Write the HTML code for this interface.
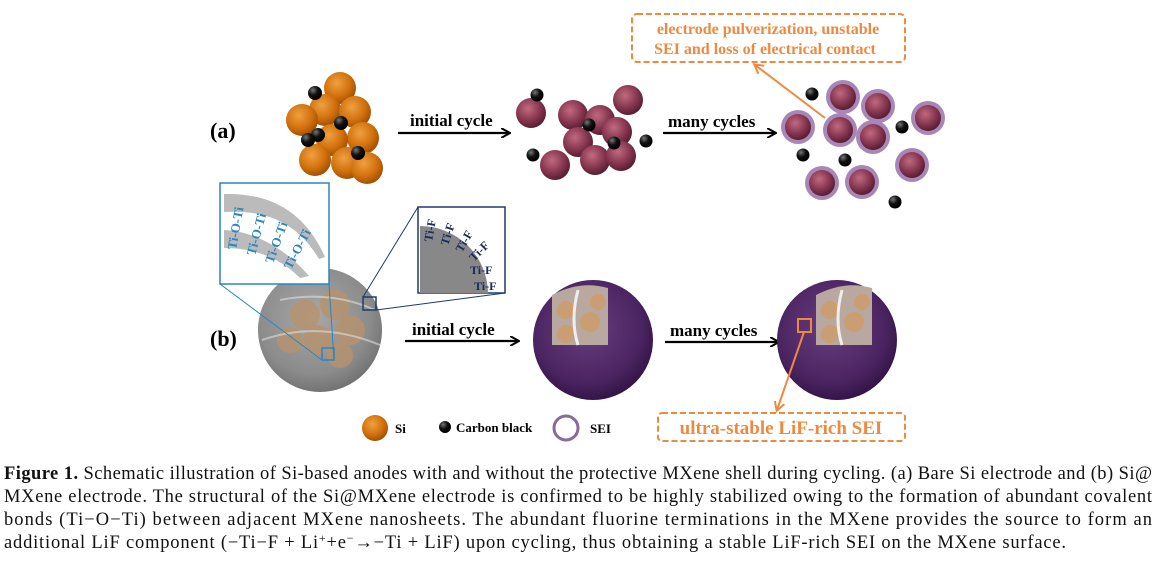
<!DOCTYPE html>
<html><head><meta charset="utf-8"><style>
html,body{margin:0;padding:0;background:#fff;}
svg{display:block;}
</style></head><body>
<svg width="1165" height="561" viewBox="0 0 1165 561" xmlns="http://www.w3.org/2000/svg">
<defs>
<radialGradient id="or" cx="0.4" cy="0.35" r="0.7"><stop offset="0" stop-color="#f0a040"/><stop offset="0.6" stop-color="#d0700c"/><stop offset="1" stop-color="#9a4a00"/></radialGradient>
<radialGradient id="pu" cx="0.4" cy="0.35" r="0.7"><stop offset="0" stop-color="#c06a80"/><stop offset="0.6" stop-color="#84344e"/><stop offset="1" stop-color="#4e1a2c"/></radialGradient>
<radialGradient id="bk" cx="0.35" cy="0.3" r="0.7"><stop offset="0" stop-color="#777"/><stop offset="0.5" stop-color="#111"/><stop offset="1" stop-color="#000"/></radialGradient>
<radialGradient id="big" cx="0.45" cy="0.4" r="0.65"><stop offset="0" stop-color="#6a3e80"/><stop offset="0.7" stop-color="#4a2460"/><stop offset="1" stop-color="#2e1040"/></radialGradient>
<radialGradient id="gr" cx="0.45" cy="0.4" r="0.65"><stop offset="0" stop-color="#b0b0b0"/><stop offset="0.7" stop-color="#858585"/><stop offset="1" stop-color="#555"/></radialGradient>
<marker id="ah" markerWidth="10" markerHeight="10" refX="8" refY="5" orient="auto" markerUnits="userSpaceOnUse"><path d="M0,0 L9,5 L0,10" fill="none" stroke="#000" stroke-width="2"/></marker>
<marker id="ao" markerWidth="12" markerHeight="12" refX="8" refY="6" orient="auto" markerUnits="userSpaceOnUse"><path d="M0,1 L9,6 L0,11" fill="none" stroke="#ee8a40" stroke-width="2"/></marker>
</defs>

<text x="210" y="138" font-family="Liberation Serif,serif" font-weight="bold" font-size="22">(a)</text>
<text x="210" y="346" font-family="Liberation Serif,serif" font-weight="bold" font-size="22">(b)</text>

<g fill="url(#or)">
<circle cx="340" cy="88" r="16"/><circle cx="325" cy="110" r="16"/><circle cx="355" cy="112" r="16"/><circle cx="302" cy="120" r="16"/>
<circle cx="363" cy="138" r="16"/><circle cx="332" cy="140" r="16"/><circle cx="315" cy="160" r="16"/><circle cx="347" cy="163" r="16"/><circle cx="367" cy="168" r="16"/>
</g>
<g fill="url(#bk)">
<circle cx="315" cy="93" r="7"/><circle cx="341" cy="123" r="7"/><circle cx="318" cy="135" r="7"/><circle cx="308" cy="140" r="7"/><circle cx="358" cy="153" r="7"/>
</g>

<line x1="398" y1="133" x2="509" y2="133" stroke="#000" stroke-width="2.2" marker-end="url(#ah)"/>
<text x="410" y="126" font-family="Liberation Serif,serif" font-weight="bold" font-size="17">initial cycle</text>
<line x1="663" y1="133" x2="775" y2="133" stroke="#000" stroke-width="2.2" marker-end="url(#ah)"/>
<text x="668" y="127" font-family="Liberation Serif,serif" font-weight="bold" font-size="17">many  cycles</text>

<g fill="url(#pu)">
<circle cx="531" cy="113" r="15"/><circle cx="573" cy="115" r="15"/><circle cx="628" cy="100" r="15"/><circle cx="600" cy="120" r="15"/>
<circle cx="617" cy="132" r="15"/><circle cx="578" cy="142" r="15"/><circle cx="555" cy="165" r="15"/><circle cx="595" cy="160" r="15"/><circle cx="621" cy="156" r="15"/>
</g>
<g fill="url(#bk)">
<circle cx="537" cy="95" r="6.5"/><circle cx="533" cy="155" r="6.5"/><circle cx="589" cy="125" r="6.5"/><circle cx="614" cy="143" r="6.5"/><circle cx="646" cy="141" r="6.5"/>
</g>

<g>
<g fill="#a887b8"><circle cx="798" cy="127" r="17"/><circle cx="843" cy="97" r="17"/><circle cx="878" cy="106" r="17"/><circle cx="840" cy="130" r="17"/><circle cx="873" cy="137" r="17"/><circle cx="928" cy="118" r="17"/><circle cx="912" cy="165" r="17"/><circle cx="822" cy="183" r="17"/><circle cx="862" cy="182" r="17"/></g>
<g fill="url(#pu)"><circle cx="798" cy="127" r="13"/><circle cx="843" cy="97" r="13"/><circle cx="878" cy="106" r="13"/><circle cx="840" cy="130" r="13"/><circle cx="873" cy="137" r="13"/><circle cx="928" cy="118" r="13"/><circle cx="912" cy="165" r="13"/><circle cx="822" cy="183" r="13"/><circle cx="862" cy="182" r="13"/></g>
</g>
<g fill="url(#bk)">
<circle cx="812" cy="94" r="6.5"/><circle cx="902" cy="127" r="6.5"/><circle cx="803" cy="155" r="6.5"/><circle cx="845" cy="160" r="6.5"/><circle cx="895" cy="202" r="6.5"/>
</g>

<rect x="632" y="14" width="273" height="48" rx="5" fill="none" stroke="#ee8a40" stroke-width="2" stroke-dasharray="6,3"/>
<text x="768" y="34" text-anchor="middle" font-family="Liberation Serif,serif" font-weight="bold" font-size="16" fill="#ee8a40">electrode pulverization,  unstable</text>
<text x="765" y="54" text-anchor="middle" font-family="Liberation Serif,serif" font-weight="bold" font-size="16" fill="#ee8a40">SEI and loss of electrical contact</text>
<line x1="825" y1="118" x2="755" y2="65" stroke="#ee8a40" stroke-width="2" marker-end="url(#ao)"/>

<circle cx="320" cy="330" r="62" fill="url(#gr)"/>
<g fill="#c89058" opacity="0.8">
<circle cx="305" cy="315" r="15"/><circle cx="335" cy="305" r="15"/><circle cx="350" cy="330" r="15"/><circle cx="318" cy="340" r="15"/><circle cx="290" cy="340" r="13"/><circle cx="340" cy="355" r="13"/>
</g>
<circle cx="320" cy="330" r="62" fill="#999" opacity="0.35"/>
<path d="M262,340 Q320,320 380,345" stroke="#ddd" stroke-width="2" fill="none" opacity="0.6"/>
<path d="M280,300 Q330,290 375,310" stroke="#ddd" stroke-width="2" fill="none" opacity="0.6"/>

<rect x="220" y="183" width="109" height="101" fill="#fff" stroke="#2a86c0" stroke-width="1.5"/>
<path d="M224,194 C262,193 302,205 325,257 L319,259 C295,218 260,210 224,212 Z" fill="#bbb"/>
<path d="M224,230 C255,231 287,250 309,276 L300,278 C280,258 255,248 224,248 Z" fill="#bbb"/>
<g font-family="Liberation Serif,serif" font-weight="bold" font-size="13" fill="#2a86c0">
<text transform="translate(236,250) rotate(-80)">Ti-O-Ti</text>
<text transform="translate(255,256) rotate(-75)">Ti-O-Ti</text>
<text transform="translate(273,264) rotate(-70)">Ti-O-Ti</text>
<text transform="translate(291,270) rotate(-62)">Ti-O-Ti</text>
</g>
<line x1="220" y1="284" x2="322" y2="360" stroke="#2a86c0" stroke-width="1"/>
<line x1="329" y1="284" x2="334" y2="360" stroke="#2a86c0" stroke-width="1"/>
<rect x="322" y="348" width="12" height="12" fill="none" stroke="#2a86c0" stroke-width="1.5"/>

<rect x="418" y="207" width="87" height="86" fill="#fff" stroke="#1f3a6a" stroke-width="1.5"/>
<path d="M420,226 A68,68 0 0 1 488,293 L420,293 Z" fill="#888"/>
<g font-family="Liberation Serif,serif" font-weight="bold" font-size="12" fill="#1a2a60">
<text transform="translate(432,242) rotate(-80)">Ti-F</text>
<text transform="translate(448,246) rotate(-72)">Ti-F</text>
<text transform="translate(462,253) rotate(-60)">Ti-F</text>
<text transform="translate(474,262) rotate(-45)">Ti-F</text>
<text x="470" y="274">Ti-F</text>
<text x="474" y="290">Ti-F</text>
</g>
<rect x="363" y="297" width="13" height="13" fill="none" stroke="#1f3a6a" stroke-width="1.5"/>
<line x1="363" y1="297" x2="418" y2="207" stroke="#1f3a6a" stroke-width="1"/>
<line x1="376" y1="310" x2="505" y2="293" stroke="#1f3a6a" stroke-width="1"/>

<line x1="405" y1="341" x2="518" y2="341" stroke="#000" stroke-width="2.2" marker-end="url(#ah)"/>
<text x="412" y="335" font-family="Liberation Serif,serif" font-weight="bold" font-size="17">initial  cycle</text>
<line x1="665" y1="342" x2="778" y2="342" stroke="#000" stroke-width="2.2" marker-end="url(#ah)"/>
<text x="670" y="336" font-family="Liberation Serif,serif" font-weight="bold" font-size="17">many  cycles</text>

<circle cx="593" cy="340" r="60" fill="url(#big)"/>
<path d="M552,345 L552,295 Q580,280 608,288 L608,345 Z" fill="#b8a8a0"/>
<circle cx="566" cy="310" r="9" fill="#d09a68" opacity="0.8"/><circle cx="590" cy="322" r="10" fill="#d09a68" opacity="0.8"/><circle cx="566" cy="334" r="9" fill="#d09a68" opacity="0.8"/><circle cx="598" cy="302" r="8" fill="#d09a68" opacity="0.8"/>
<path d="M578,290 Q570,320 578,345" stroke="#eee" stroke-width="3" fill="none"/>

<circle cx="837" cy="340" r="60" fill="url(#big)"/>
<path d="M816,345 L816,295 Q845,280 872,288 L872,345 Z" fill="#b8a8a0"/>
<circle cx="830" cy="310" r="9" fill="#d09a68" opacity="0.8"/><circle cx="854" cy="322" r="10" fill="#d09a68" opacity="0.8"/><circle cx="830" cy="334" r="9" fill="#d09a68" opacity="0.8"/><circle cx="862" cy="302" r="8" fill="#d09a68" opacity="0.8"/>
<path d="M842,290 Q834,320 842,345" stroke="#eee" stroke-width="3" fill="none"/>
<rect x="798" y="319" width="13" height="13" fill="none" stroke="#ee8a40" stroke-width="2"/>
<line x1="804" y1="332" x2="777" y2="410" stroke="#ee8a40" stroke-width="2" marker-end="url(#ao)"/>

<rect x="658" y="413" width="247" height="28" rx="4" fill="none" stroke="#ee8a40" stroke-width="2" stroke-dasharray="6,3"/>
<text x="781" y="434" text-anchor="middle" font-family="Liberation Serif,serif" font-weight="bold" font-size="19" fill="#ee8a40">ultra-stable LiF-rich SEI</text>

<circle cx="375" cy="428" r="13" fill="url(#or)"/>
<text x="395" y="433" font-family="Liberation Serif,serif" font-weight="bold" font-size="13">Si</text>
<circle cx="445" cy="427" r="6" fill="url(#bk)"/>
<text x="456" y="432" font-family="Liberation Serif,serif" font-weight="bold" font-size="13">Carbon black</text>
<circle cx="566" cy="428" r="12" fill="none" stroke="#8a6a9a" stroke-width="3"/>
<text x="590" y="433" font-family="Liberation Serif,serif" font-weight="bold" font-size="13">SEI</text>

<g font-family="Liberation Serif,serif" font-size="18.5" fill="#111">
<text x="4" y="479" textLength="1148" lengthAdjust="spacing"><tspan font-weight="bold">Figure 1.</tspan> Schematic illustration of Si-based anodes with and without the protective MXene shell during cycling. (a) Bare Si electrode and (b) Si@</text>
<text x="4" y="502" textLength="1148" lengthAdjust="spacing">MXene electrode. The structural of the Si@MXene electrode is confirmed to be highly stabilized owing to the formation of abundant covalent</text>
<text x="4" y="525" textLength="1148" lengthAdjust="spacing">bonds (Ti−O−Ti) between adjacent MXene nanosheets. The abundant fluorine terminations in the MXene provides the source to form an</text>
<text x="4" y="548" textLength="1062" lengthAdjust="spacing">additional LiF component (−Ti−F + Li<tspan font-size="12" dy="-6">+</tspan><tspan dy="6">+e</tspan><tspan font-size="12" dy="-6">−</tspan><tspan dy="6">→−Ti + LiF) upon cycling, thus obtaining a stable LiF-rich SEI on the MXene surface.</tspan></text>
</g>
</svg>
</body></html>
